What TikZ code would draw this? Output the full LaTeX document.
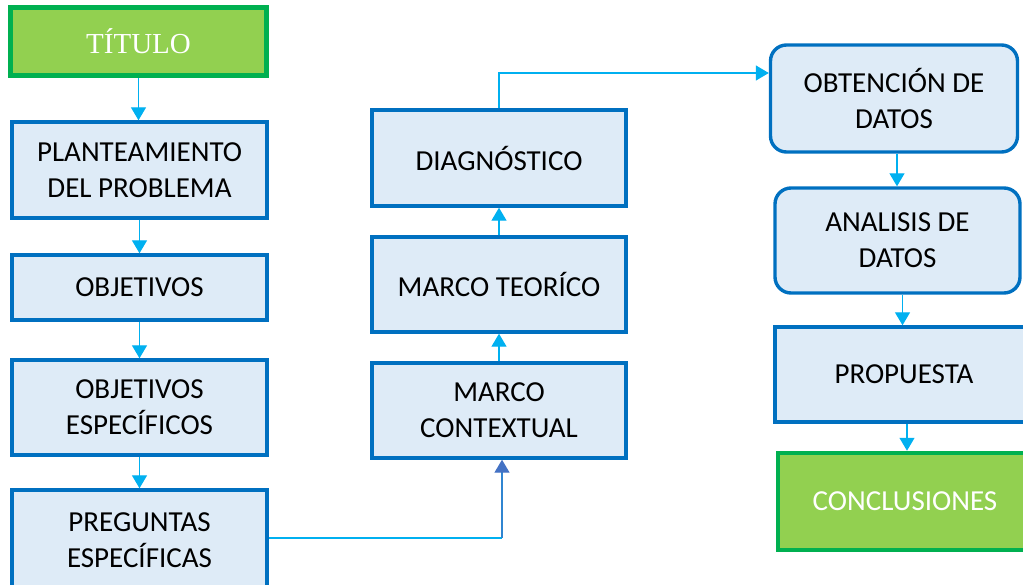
\documentclass[tikz,border=0pt]{standalone}
\usepackage{fontspec}
\setmainfont{Carlito}
\newfontfamily\titlefont{Liberation Serif}
\usetikzlibrary{arrows.meta,calc}
\definecolor{boxfill}{HTML}{DEEBF7}
\definecolor{boxline}{HTML}{0070C0}
\definecolor{grfill}{HTML}{92D050}
\definecolor{grline}{HTML}{00B050}
\definecolor{arrcyan}{HTML}{00B0F0}
\definecolor{arrblue}{HTML}{4472C4}
\tikzset{
  stepbox/.style={draw=boxline, fill=boxfill, line width=3.4pt, align=center,
    font=\fontsize{29}{36}\selectfont, text=black, inner sep=0pt},
  roundbox/.style={stepbox, rounded corners=16pt},
  greenbox/.style={draw=grline, fill=grfill, line width=4.5pt, align=center,
    text=white, inner sep=0pt},
  arr/.style={draw=arrcyan, line width=1.3pt, -{Triangle[width=15pt,length=13pt]}},
  plainline/.style={draw=arrcyan, line width=1.3pt},
}
\begin{document}
\begin{tikzpicture}[x=1pt,y=-1pt]
\useasboundingbox (0,0) rectangle (1023,584);
\clip (0,0) rectangle (1023,584);
% left column
\node[greenbox, minimum width=256pt, minimum height=68pt, font=\titlefont\fontsize{29}{34}\selectfont] (titulo) at (138.5,41.5) {TÍTULO};
\node[stepbox, minimum width=255pt, minimum height=96pt] (plan) at (139.5,170) {PLANTEAMIENTO\\DEL PROBLEMA};
\node[stepbox, minimum width=255pt, minimum height=65pt] (obj) at (139.5,287.5) {OBJETIVOS};
\node[stepbox, minimum width=255pt, minimum height=95pt] (objesp) at (139.5,407.5) {OBJETIVOS\\ESPECÍFICOS};
\node[stepbox, minimum width=255pt, minimum height=100pt] (preg) at (139.5,540) {PREGUNTAS\\ESPECÍFICAS};
% middle column
\node[stepbox, minimum width=254pt, minimum height=96pt] (diag) at (499,158) {DIAGNÓSTICO};
\node[stepbox, minimum width=254pt, minimum height=95pt] (teor) at (499,284.5) {MARCO TEORÍCO};
\node[stepbox, minimum width=254pt, minimum height=95pt] (cont) at (499,410.5) {MARCO\\CONTEXTUAL};
% right column
\node[roundbox, minimum width=247pt, minimum height=107pt] (obt) at (894,98.5) {OBTENCIÓN DE\\DATOS};
\node[roundbox, minimum width=245pt, minimum height=105pt] (anal) at (897.5,240.5) {ANALISIS DE\\DATOS};
\node[stepbox, minimum width=258pt, minimum height=95pt] (prop) at (904,374.5) {PROPUESTA};
\node[greenbox, minimum width=254pt, minimum height=97pt, font=\fontsize{29}{36}\selectfont] (concl) at (905,501.5) {CONCLUSIONES};
% connectors left
\draw[arr] (titulo.south) -- (titulo.south |- plan.north);
\draw[arr] (plan.south) -- (obj.north);
\draw[arr] (obj.south) -- (objesp.north);
\draw[arr] (objesp.south) -- (preg.north);
% to middle column
\coordinate (bendA) at ([yshift=2pt]preg.east -| 502,0);
\draw[plainline] ([yshift=2pt]preg.east) -- (bendA);
\draw[draw=arrblue!70!arrcyan, line width=1.3pt, -{Triangle[width=15pt,length=13pt,color=arrblue]}] (bendA) -- (bendA |- cont.south);
\draw[arr] (cont.north) -- (teor.south);
\draw[arr] (teor.north) -- (diag.south);
% to right column
\coordinate (obtin) at ([yshift=25.5pt]obt.west);
\draw[arr] (diag.north) |- (obtin);
\draw[arr] ([xshift=3pt]obt.south) -- ([xshift=3pt]obt.south |- anal.north);
\draw[arr] ([xshift=5pt]anal.south) -- ([xshift=5pt]anal.south |- prop.north);
\draw[arr] ([xshift=3pt]prop.south) -- ([xshift=3pt]prop.south |- concl.north);
\end{tikzpicture}
\end{document}
